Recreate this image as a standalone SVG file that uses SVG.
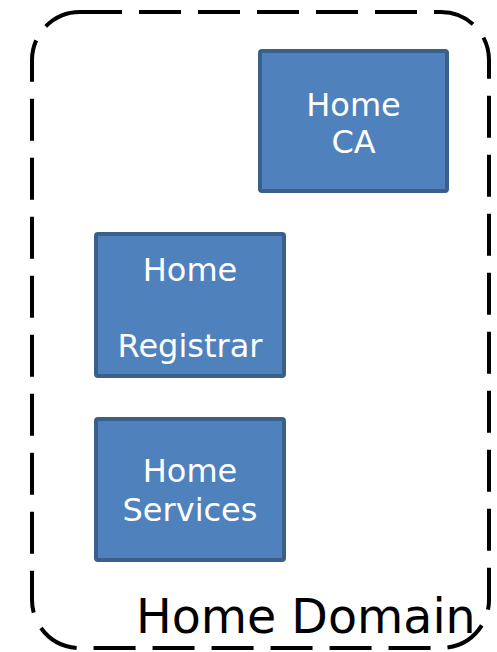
<svg xmlns="http://www.w3.org/2000/svg" width="497" height="652" viewBox="0 0 497 652">
  <style>
    .box { fill: #4F81BD; stroke: #3A5F8B; stroke-width: 4; }
    .lbl { font-family: "DejaVu Sans", sans-serif; font-size: 32px; fill: #FFFFFF; text-anchor: middle; }
    .domain { fill: none; stroke: #000000; stroke-width: 4; stroke-dasharray: 42 17; }
    .domain-lbl { font-family: "DejaVu Sans", sans-serif; font-size: 47.5px; fill: #000000; }
  </style>
  <rect width="497" height="652" fill="#FFFFFF"/>

  <!-- Domain boundary -->
  <g id="home-domain">
    <rect class="domain" x="32" y="12" width="457" height="636" rx="48" ry="48"/>
    <text class="domain-lbl" x="136" y="633">Home Domain</text>
  </g>

  <g id="home-ca">
    <rect class="box" x="260" y="51" width="187" height="140" rx="2"/>
    <text class="lbl" x="353.5" y="116">Home</text>
    <text class="lbl" x="353.5" y="153">CA</text>
  </g>

  <g id="home-registrar">
    <rect class="box" x="96" y="234" width="188" height="142" rx="2"/>
    <text class="lbl" x="190" y="281">Home</text>
    <text class="lbl" x="190" y="357">Registrar</text>
  </g>

  <g id="home-services">
    <rect class="box" x="96" y="419" width="188" height="141" rx="2"/>
    <text class="lbl" x="190" y="482">Home</text>
    <text class="lbl" x="190" y="521">Services</text>
  </g>

  <g id="connectors"/>
</svg>
